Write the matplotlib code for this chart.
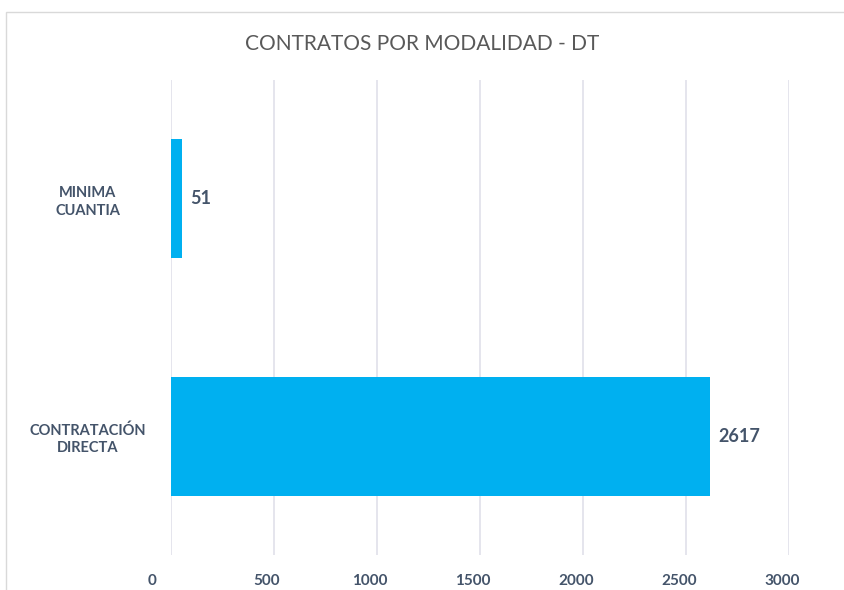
import matplotlib

matplotlib.use("Agg")
import matplotlib.pyplot as plt
from matplotlib.patches import Rectangle
from matplotlib.transforms import ScaledTranslation

categories = ["CONTRATACIÓN\nDIRECTA", "MINIMA\nCUANTIA"]
values = [2617, 51]
xticks = [0, 500, 1000, 1500, 2000, 2500, 3000]

BAR = "#00b0f0"
LABEL = "#44546a"
GRID = "#e0e0ea"

plt.rcParams["font.family"] = ["Lato", "DejaVu Sans"]

fig = plt.figure(figsize=(8.45, 5.9), dpi=100)
ax = fig.add_axes([0.2024, 0.0593, 0.7313, 0.8051])

# marco del gráfico
fig.patches.append(Rectangle((0.0071, -0.05), 1.1, 1.0297, transform=fig.transFigure,
                             fill=False, edgecolor="#d9d9d9", linewidth=1.0))

pos = list(range(len(categories)))
ax.barh(pos, values, height=0.5, color=BAR, zorder=3)
for p, v in zip(pos, values):
    ax.annotate(str(v), (v, p), xytext=(6, 0), textcoords="offset points",
                ha="left", va="center", fontsize=13, fontweight="bold", color=LABEL)

ax.set_xlim(0, 3000)
ax.set_ylim(-0.5, 1.5)
ax.set_xticks(xticks)
ax.set_xticklabels([str(t) for t in xticks], fontsize=11, fontweight="bold", color=LABEL)
ax.set_yticks(pos)
ax.set_yticklabels(categories, fontsize=10.5, fontweight="bold", color=LABEL,
                   ha="center", linespacing=1.3)
ax.tick_params(axis="y", length=0, pad=60)
ax.tick_params(axis="x", length=0, pad=14)

for i, lab in enumerate(ax.get_xticklabels()):
    dx = -19 if i == 0 else -7
    lab.set_transform(lab.get_transform() + ScaledTranslation(dx / 100, 0, fig.dpi_scale_trans))

ax.grid(axis="x", color=GRID, linewidth=1.2, zorder=0)
for s in ax.spines.values():
    s.set_visible(False)

fig.text(0.5, 0.925, "CONTRATOS POR MODALIDAD - DT", ha="center", va="center",
         fontsize=15, color="#595959")

fig.savefig("out.png", dpi=100)
